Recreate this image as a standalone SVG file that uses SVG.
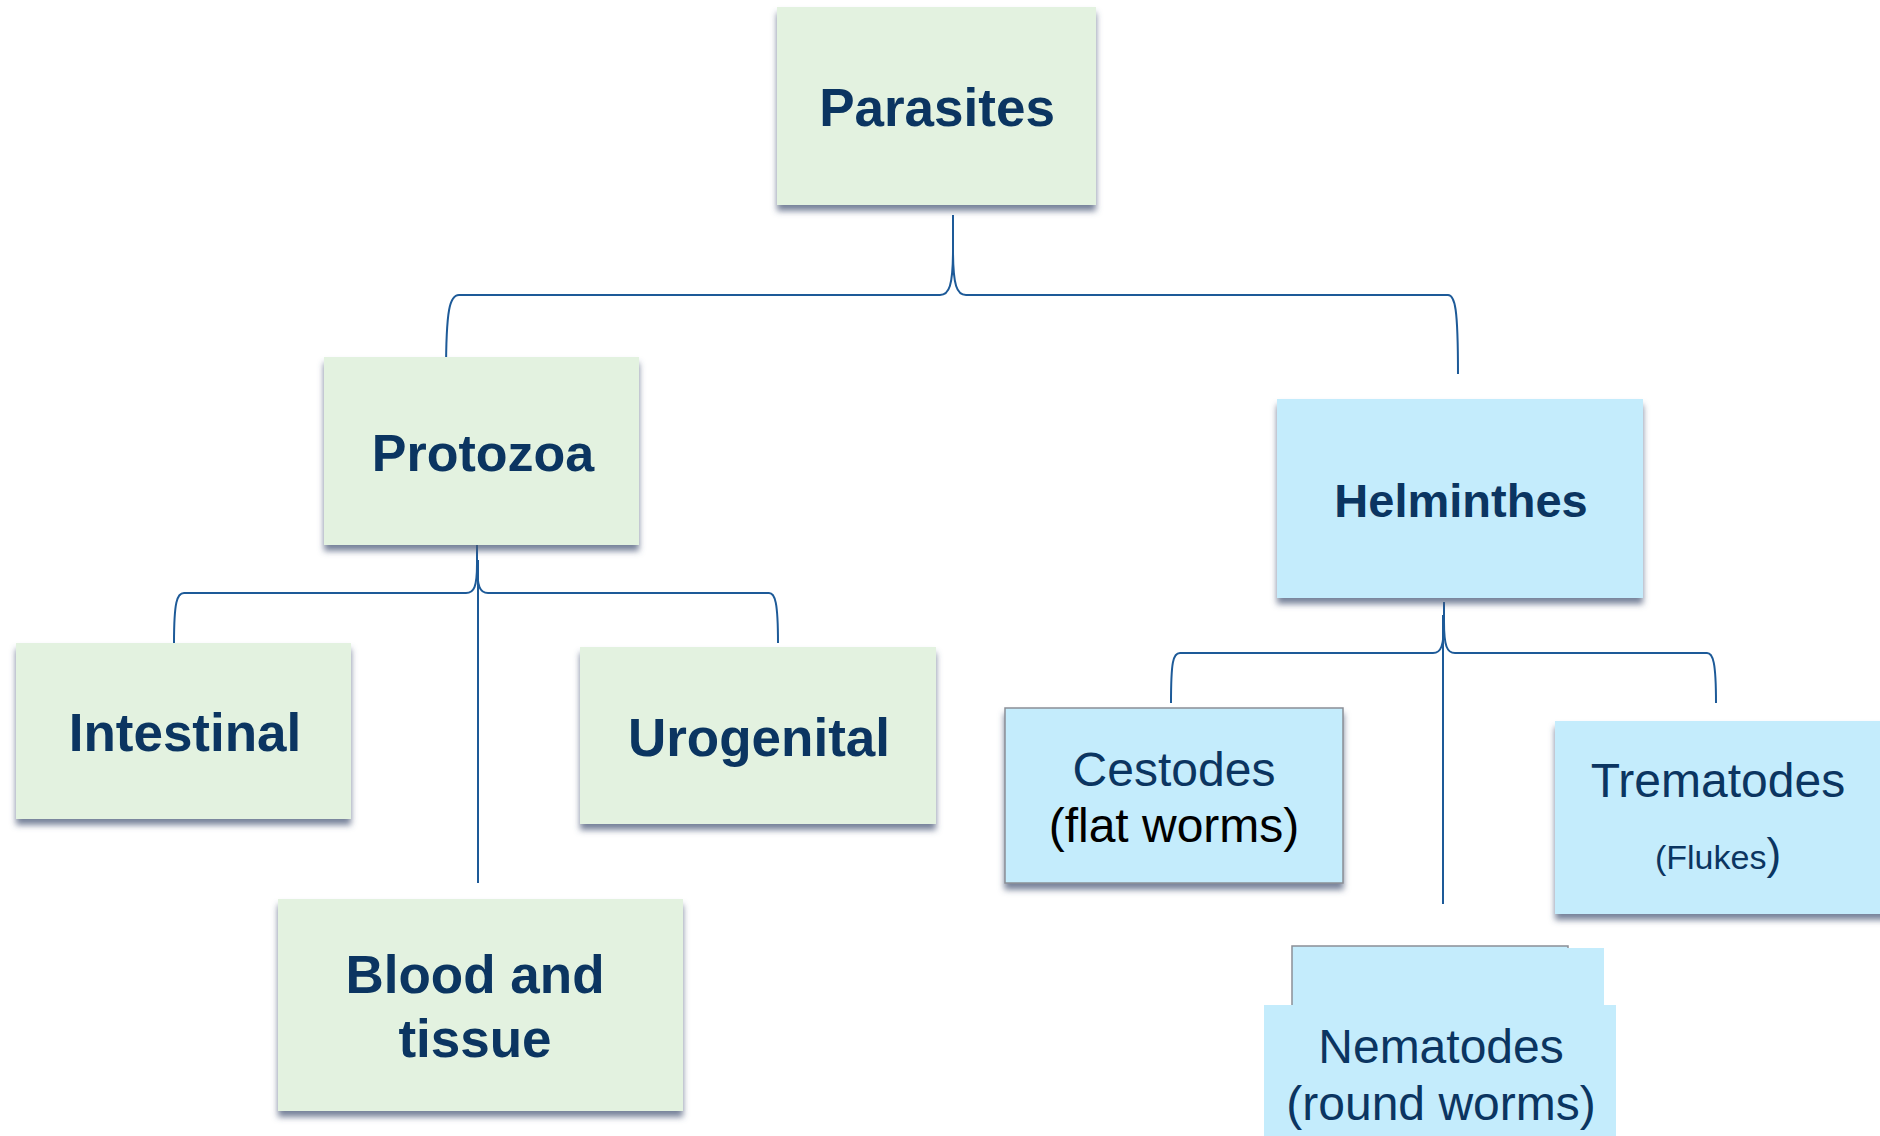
<svg xmlns="http://www.w3.org/2000/svg" width="1880" height="1136" viewBox="0 0 1880 1136">
<defs>
<filter id="sh" x="-10%" y="-10%" width="120%" height="130%">
<feDropShadow dx="0" dy="6" stdDeviation="3" flood-color="#4a5a78" flood-opacity="0.75"/>
</filter>
<style>
.g{fill:#e3f2e0;filter:url(#sh)}
.b{fill:#c4ecfc;filter:url(#sh)}
.tb{font-family:"Liberation Sans",Arial,sans-serif;font-weight:bold;fill:#0b3561;text-anchor:middle}
.tr{font-family:"Liberation Sans",Arial,sans-serif;fill:#0b3561;text-anchor:middle}
.c{fill:none;stroke:#1d5a98;stroke-width:2}
</style>
</defs>
<g id="connectors">
<path class="c" d="M953 215 L953 250 C953 286 949 295 940 295 L459 295 C450 295 446 308 446 374"/>
<path class="c" d="M953 250 C953 286 957 295 966 295 L1448 295 C1455 295 1458 308 1458 374"/>
<path class="c" d="M477 544 L477 564 C477 587 474 593 466 593 L184 593 C177 593 174 602 174 643"/>
<path class="c" d="M477 564 C477 587 480 593 488 593 L769 593 C775 593 778 602 778 643"/>
<path class="c" d="M478 560 L478 883"/>
<path class="c" d="M1444 602 L1444 622 C1444 646 1441 653 1433 653 L1180 653 C1173 653 1171 662 1171 703"/>
<path class="c" d="M1444 622 C1444 646 1447 653 1455 653 L1707 653 C1713 653 1716 662 1716 703"/>
<path class="c" d="M1443 615 L1443 904"/>
</g>
<g id="parasites">
<rect class="g" x="777" y="7" width="319" height="198"/>
<text class="tb" x="937" y="126" font-size="53">Parasites</text>
</g>
<g id="protozoa">
<rect class="g" x="324" y="357" width="315" height="188"/>
<text class="tb" x="483" y="471" font-size="52">Protozoa</text>
</g>
<g id="helminthes">
<rect class="b" x="1277" y="399" width="366" height="199"/>
<text class="tb" x="1461" y="517" font-size="47">Helminthes</text>
</g>
<g id="intestinal">
<rect class="g" x="16" y="643" width="335" height="176"/>
<text class="tb" x="185" y="751" font-size="53">Intestinal</text>
</g>
<g id="urogenital">
<rect class="g" x="580" y="647" width="356" height="177"/>
<text class="tb" x="759" y="756" font-size="53">Urogenital</text>
</g>
<g id="blood-tissue">
<rect class="g" x="278" y="899" width="405" height="212"/>
<text class="tb" x="475" y="993" font-size="53">Blood and</text>
<text class="tb" x="475" y="1057" font-size="53">tissue</text>
</g>
<g id="cestodes">
<rect class="b" x="1005" y="708" width="338" height="175" stroke="#8a8f96" stroke-width="1.5"/>
<text class="tr" x="1174" y="786" font-size="48">Cestodes</text>
<text class="tr" x="1174" y="842" font-size="48" style="fill:#000">(flat worms)</text>
</g>
<g id="trematodes">
<rect class="b" x="1555" y="721" width="340" height="193"/>
<text class="tr" x="1718" y="797" font-size="48">Trematodes</text>
<text class="tr" x="1718" y="869" font-size="34">(Flukes<tspan font-size="44">)</tspan></text>
</g>
<g id="nematodes">
<rect x="1292" y="946" width="276" height="80" fill="#c4ecfc" stroke="#8a8f96" stroke-width="1.5"/>
<rect x="1293" y="948" width="311" height="80" fill="#c4ecfc"/>
<rect x="1264" y="1005" width="352" height="140" fill="#c4ecfc"/>
<text class="tr" x="1441" y="1063" font-size="48">Nematodes</text>
<text class="tr" x="1441" y="1120" font-size="48">(round worms)</text>
</g>
</svg>
